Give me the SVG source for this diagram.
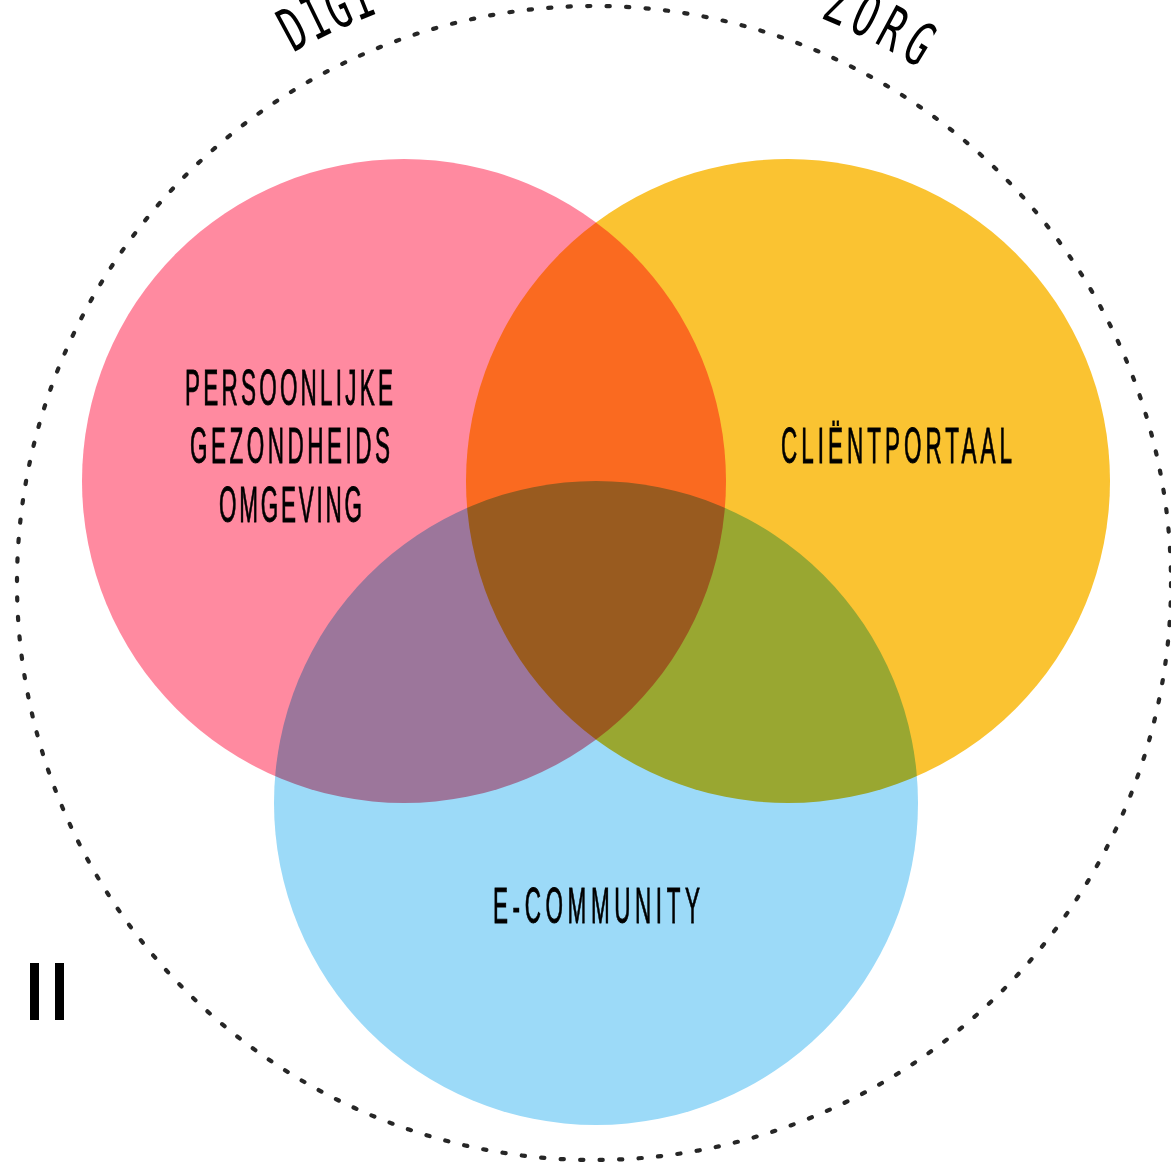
<svg xmlns="http://www.w3.org/2000/svg" width="1171" height="1168" viewBox="0 0 1171 1168">
<style>
.c{mix-blend-mode:multiply}
.lbl{font-family:"Liberation Sans",Arial,sans-serif;font-size:50px;fill:#000;stroke:#000;stroke-width:0.9px;text-anchor:middle}
.ttl{font-family:"DejaVu Sans Mono","Liberation Mono",monospace;font-size:60px;fill:#000;text-anchor:middle}
</style>
<rect width="1171" height="1168" fill="#fff"/>
<g id="outer-ring">
<circle cx="594" cy="583" r="577" fill="none" stroke="#262626" stroke-width="4.2" stroke-linecap="round" stroke-dasharray="3.2 16.31"/>
</g>
<g id="title">
<text class="ttl" transform="translate(302.9,47.4) rotate(-28.4) scale(0.62,1)">D</text>
<text class="ttl" transform="translate(324.7,36.2) rotate(-26.1) scale(0.62,1)">I</text>
<text class="ttl" transform="translate(345.9,26.3) rotate(-23.9) scale(0.62,1)">G</text>
<text class="ttl" transform="translate(368.5,16.8) rotate(-21.6) scale(0.62,1)">I</text>
<text class="ttl" transform="translate(830.4,22.1) rotate(22.9) scale(0.62,1)">Z</text>
<text class="ttl" transform="translate(857.1,34.1) rotate(25.65) scale(0.62,1)">O</text>
<text class="ttl" transform="translate(883.1,47.4) rotate(28.4) scale(0.62,1)">R</text>
<text class="ttl" transform="translate(908.5,61.9) rotate(31.15) scale(0.62,1)">G</text>
</g>
<g id="circles" style="isolation:isolate">
<g id="node-persoonlijke"><circle class="c" cx="404" cy="481" r="322" fill="#FF8AA0"/></g>
<g id="node-clientportaal"><circle class="c" cx="788" cy="481" r="322" fill="#FAC332"/></g>
<g id="node-ecommunity"><circle class="c" cx="596" cy="803" r="322" fill="#9CDAF8"/></g>
</g>
<g id="labels">
<text class="lbl" transform="translate(289,405) scale(0.45,1)" textLength="462" lengthAdjust="spacing">PERSOONLIJKE</text>
<text class="lbl" transform="translate(290,463) scale(0.45,1)" textLength="444" lengthAdjust="spacing">GEZONDHEIDS</text>
<text class="lbl" transform="translate(290.5,522) scale(0.45,1)" textLength="318" lengthAdjust="spacing">OMGEVING</text>
<text class="lbl" transform="translate(896.5,463) scale(0.45,1)" textLength="513" lengthAdjust="spacing">CLIËNTPORTAAL</text>
<text class="lbl" transform="translate(596.5,923) scale(0.45,1)" textLength="460" lengthAdjust="spacing">E-COMMUNITY</text>
</g>
<g id="connectors"></g>
<g id="pause-icon" fill="#000">
<rect x="30" y="963" width="9" height="57"/>
<rect x="55" y="963" width="9" height="57"/>
</g>
</svg>
